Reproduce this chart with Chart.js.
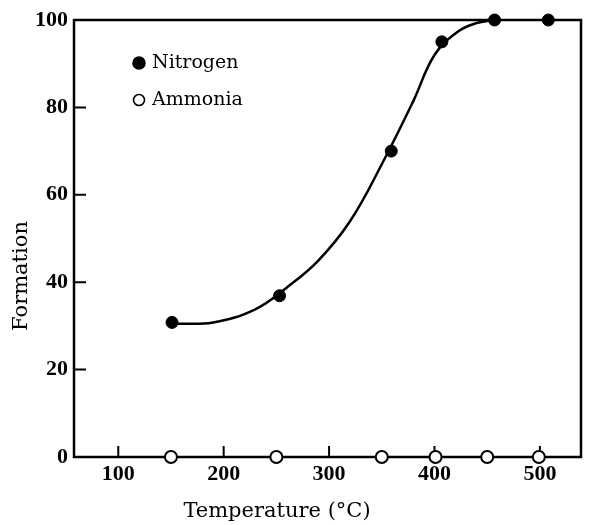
<!DOCTYPE html>
<html>
<head>
<meta charset="utf-8">
<title>Formation vs Temperature</title>
<script src="https://cdn.jsdelivr.net/npm/chart.js@4/dist/chart.umd.min.js"></script>
<style>
  body { margin: 0; background: #fff; }
</style>
</head>
<body>
<canvas id="chart" width="595" height="525"></canvas>
<script>
// measured points
const nitrogenTemp = [151, 253, 359, 407, 457, 508];
const nitrogenVal = [30.8, 36.9, 70, 95, 100, 100];
const ammoniaTemp = [150, 250, 350, 401, 450, 499];
const ammoniaVal = [0, 0, 0, 0, 0, 0];

// hand-drawn trend line through the nitrogen data
const curveTemp = [151, 190, 230, 260, 290, 320, 350, 380, 400, 422, 440, 456];
const curveVal = [30.5, 30.8, 33.8, 38.8, 45, 54, 67, 81.5, 92, 97.3, 99.3, 100];

const xTicks = [100, 200, 300, 400, 500];
const yTicks = [0, 20, 40, 60, 80, 100];

const serif = '"DejaVu Serif", "Liberation Serif", serif';
const tickFont = { family: '"Liberation Serif", serif', size: 22, weight: 'bold' };

function pairs(xs, ys) {
  return xs.map((v, i) => ({x: v, y: ys[i]}));
}

// box, inward ticks, axis titles and the legend
const frame = {
  id: 'frame',
  beforeDatasetsDraw(chart) {
    const {ctx, chartArea: a, scales: {x, y}} = chart;
    ctx.save();
    ctx.strokeStyle = '#000';
    ctx.lineWidth = 2.5;
    ctx.strokeRect(a.left, a.top, a.width, a.height);
    ctx.lineWidth = 2;
    ctx.beginPath();
    xTicks.forEach(v => {
      const px = x.getPixelForValue(v);
      ctx.moveTo(px, a.bottom);
      ctx.lineTo(px, a.bottom - 11);
    });
    yTicks.filter(v => v > 0 && v < 100).forEach(v => {
      const py = y.getPixelForValue(v);
      ctx.moveTo(a.left, py);
      ctx.lineTo(a.left + 12, py);
    });
    ctx.stroke();
    ctx.restore();
  },
  afterDraw(chart) {
    const {ctx} = chart;
    ctx.save();
    ctx.fillStyle = '#000';
    ctx.textBaseline = 'middle';
    ctx.textAlign = 'center';
    ctx.font = '21px ' + serif;
    ctx.fillText('Temperature (°C)', 277, 512);
    ctx.translate(22, 276);
    ctx.rotate(-Math.PI / 2);
    ctx.fillText('Formation', 0, 0);
    ctx.restore();

    // legend
    const sets = chart.data.datasets.slice(1);
    ctx.save();
    ctx.font = '19px ' + serif;
    ctx.textBaseline = 'middle';
    ctx.textAlign = 'left';
    sets.forEach((ds, i) => {
      const ly = 63 + i * 37;
      ctx.beginPath();
      ctx.arc(139, ly, i === 0 ? 6 : 5.5, 0, Math.PI * 2);
      ctx.fillStyle = ds.backgroundColor;
      ctx.fill();
      ctx.lineWidth = 1.6;
      ctx.strokeStyle = '#000';
      ctx.stroke();
      ctx.fillStyle = '#000';
      ctx.fillText(ds.label, 152, ly);
    });
    ctx.restore();
  }
};

new Chart(document.getElementById('chart'), {
  type: 'scatter',
  data: {
    datasets: [{
      label: 'curve',
      type: 'line',
      data: pairs(curveTemp, curveVal),
      borderColor: '#000',
      borderWidth: 2.5,
      pointRadius: 0,
      tension: 0.4,
      fill: false,
      clip: false
    }, {
      label: 'Nitrogen',
      data: pairs(nitrogenTemp, nitrogenVal),
      backgroundColor: '#000',
      borderColor: '#000',
      borderWidth: 1,
      pointRadius: 6,
      clip: false
    }, {
      label: 'Ammonia',
      data: pairs(ammoniaTemp, ammoniaVal),
      backgroundColor: '#fff',
      borderColor: '#000',
      borderWidth: 2,
      pointRadius: 6,
      clip: false
    }]
  },
  options: {
    responsive: false,
    animation: false,
    layout: { padding: { top: 20, right: 14, left: 0, bottom: 0 } },
    plugins: { legend: { display: false }, tooltip: { enabled: false } },
    scales: {
      x: {
        type: 'linear',
        min: 58,
        max: 539,
        grid: { display: false, drawTicks: false },
        border: { display: false },
        afterBuildTicks: s => { s.ticks = xTicks.map(v => ({value: v})); },
        afterFit: s => { s.height = 68; },
        ticks: { color: '#000', padding: 4, maxRotation: 0, font: tickFont }
      },
      y: {
        min: 0,
        max: 100,
        grid: { display: false, drawTicks: false },
        border: { display: false },
        afterBuildTicks: s => { s.ticks = yTicks.map(v => ({value: v})); },
        afterFit: s => { s.width = 74; },
        ticks: { color: '#000', padding: 6, font: tickFont }
      }
    }
  },
  plugins: [frame]
});
</script>
</body>
</html>
